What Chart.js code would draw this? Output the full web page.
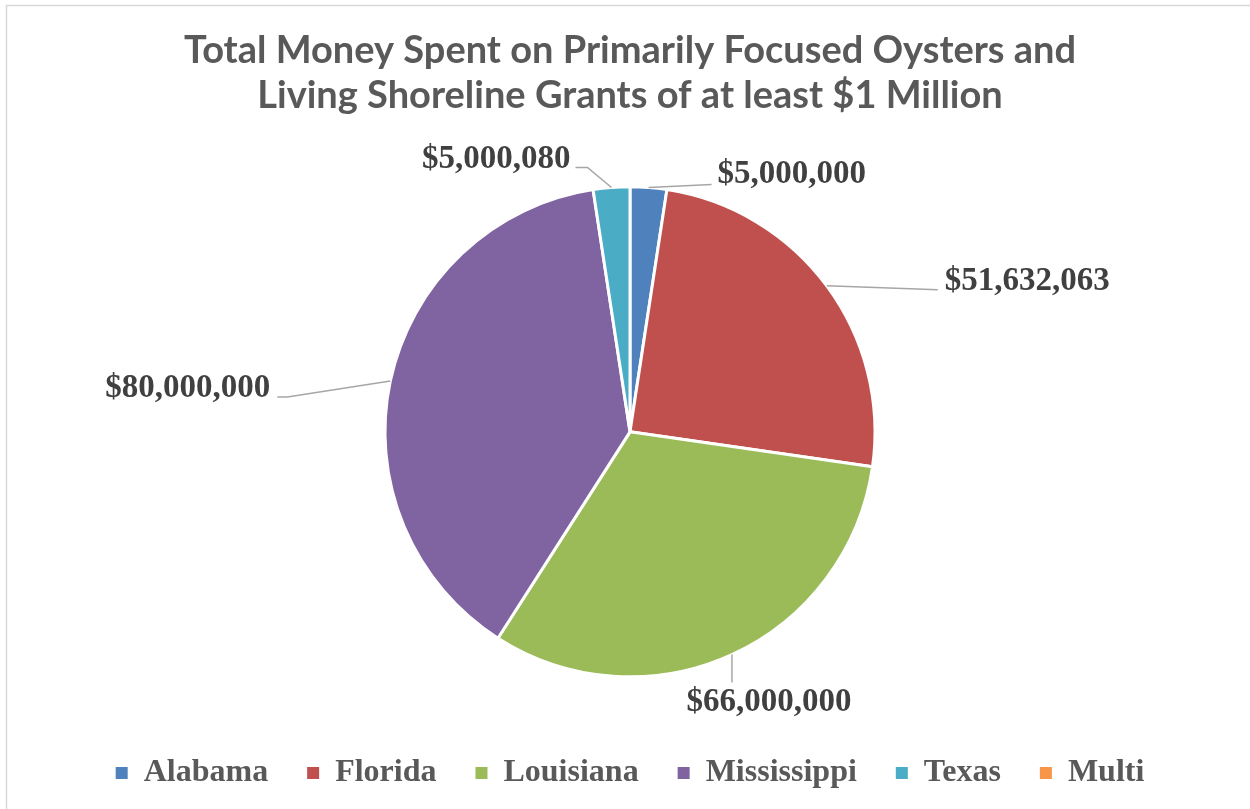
<!DOCTYPE html>
<html><head><meta charset="utf-8">
<script src="https://cdn.jsdelivr.net/npm/chart.js@4.4.0/dist/chart.umd.min.js"></script>
<style>html,body{margin:0;padding:0;background:#fff}#wrap{width:1250px;height:809px;position:relative}</style>
</head><body><div id="wrap"><canvas id="c" width="1250" height="809"></canvas></div>
<script>
const categories = ['Alabama', 'Florida', 'Louisiana', 'Mississippi', 'Texas', 'Multi'];
const amounts = [5000000, 51632063, 66000000, 80000000, 5000080, 0];
const sliceColors = ['#4F81BD', '#C0504D', '#9BBB59', '#8064A2', '#4BACC6', '#F79646'];
const titleLines = ['Total Money Spent on Primarily Focused Oysters and', 'Living Shoreline Grants of at least $1 Million'];

// leader-line layout, relative to each slice's outer edge at its mid-angle
const labelLayout = [
  {bend: null, end: [63, -3], text: [6, -10], align: 'left'},
  {bend: null, end: [111, 4], text: [7, -8], align: 'left'},
  {bend: null, end: [0, 28], text: [37, 20], align: 'center'},
  {bend: [-103, 16], end: [-113, 16], text: [-7, -9], align: 'right'},
  {bend: [-24, -20], end: [-36, -20], text: [-5, -8], align: 'right'},
  null
];

const frame = {
  id: 'frame',
  beforeDraw(chart) {
    const ctx = chart.ctx;
    ctx.save();
    ctx.fillStyle = '#ffffff';
    ctx.fillRect(0, 0, chart.width, chart.height);
    ctx.strokeStyle = '#d9d9d9';
    ctx.lineWidth = 1.5;
    ctx.beginPath();
    ctx.moveTo(6.5, chart.height);
    ctx.lineTo(6.5, 5.5);
    ctx.lineTo(chart.width, 5.5);
    ctx.stroke();
    ctx.restore();
  }
};

const leaderLabels = {
  id: 'leaderLabels',
  afterDatasetsDraw(chart) {
    const ctx = chart.ctx;
    const meta = chart.getDatasetMeta(0);
    meta.data.forEach((arc, i) => {
      const v = chart.data.datasets[0].data[i];
      const L = labelLayout[i];
      if (!v || !L) return;
      const p = arc.getProps(['x', 'y', 'startAngle', 'endAngle', 'outerRadius'], true);
      const mid = (p.startAngle + p.endAngle) / 2;
      const ex = p.x + Math.cos(mid) * p.outerRadius;
      const ey = p.y + Math.sin(mid) * p.outerRadius;
      ctx.save();
      ctx.strokeStyle = '#a6a6a6';
      ctx.lineWidth = 1.5;
      ctx.beginPath();
      ctx.moveTo(ex, ey);
      if (L.bend) ctx.lineTo(ex + L.bend[0], ey + L.bend[1]);
      const px = ex + L.end[0], py = ey + L.end[1];
      ctx.lineTo(px, py);
      ctx.stroke();
      ctx.font = 'bold 33px "Liberation Serif"';
      ctx.fillStyle = '#404040';
      ctx.textAlign = L.align;
      ctx.textBaseline = 'middle';
      ctx.fillText('$' + v.toLocaleString('en-US'), px + L.text[0], py + L.text[1]);
      ctx.restore();
    });
  }
};

new Chart(document.getElementById('c'), {
  type: 'pie',
  data: {
    labels: categories,
    datasets: [{
      data: amounts,
      backgroundColor: sliceColors,
      borderColor: '#ffffff',
      borderWidth: 3,
      radius: 245
    }]
  },
  options: {
    responsive: false,
    animation: false,
    layout: {padding: {left: 10, right: 0, top: 0, bottom: 10}},
    plugins: {
      title: {
        display: true,
        text: titleLines,
        color: '#595959',
        font: {family: 'Lato', weight: 'bold', size: 38, lineHeight: 1.18},
        padding: {top: 28, bottom: 28}
      },
      legend: {
        position: 'bottom',
        labels: {
          boxWidth: 12,
          boxHeight: 12,
          padding: 39,
          color: '#595959',
          font: {family: 'Liberation Serif', weight: 'bold', size: 32},
          generateLabels(chart) {
            return chart.data.labels.map((l, i) => ({
              text: l,
              fillStyle: sliceColors[i],
              strokeStyle: sliceColors[i],
              lineWidth: 0,
              fontColor: '#595959',
              hidden: false,
              index: i
            }));
          }
        }
      },
      tooltip: {enabled: false}
    }
  },
  plugins: [frame, leaderLabels]
});
</script>
</body></html>
